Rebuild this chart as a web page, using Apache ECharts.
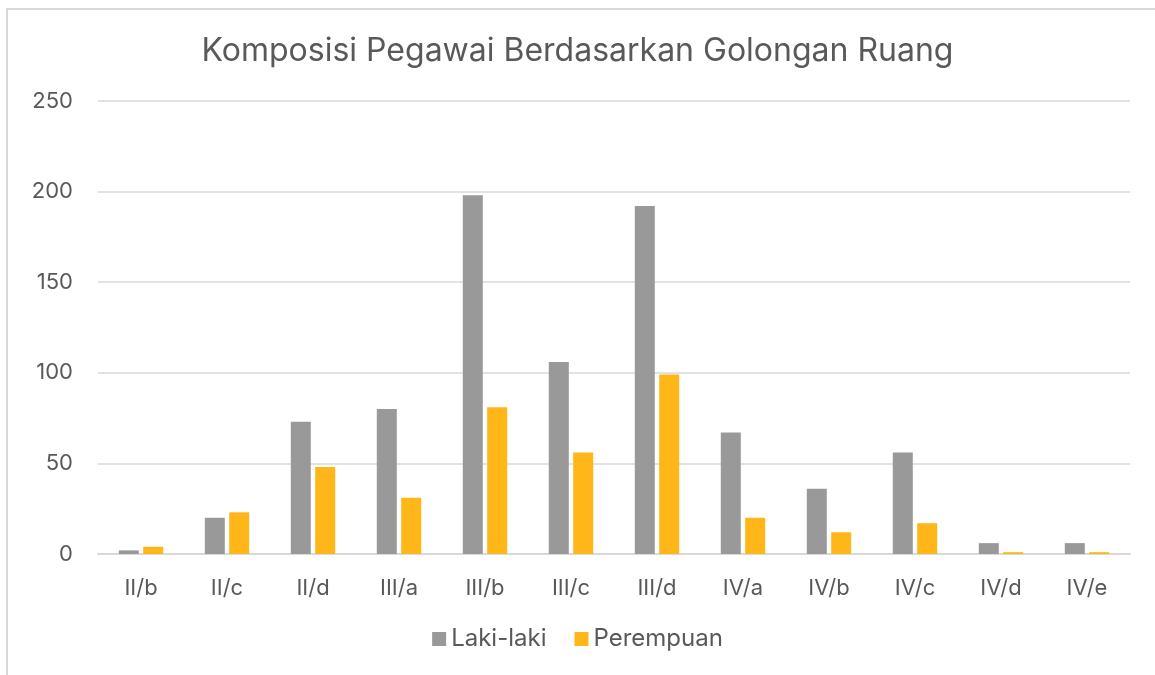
<!DOCTYPE html>
<html>
<head>
<meta charset="utf-8">
<script src="https://cdn.jsdelivr.net/npm/echarts@6/dist/echarts.min.js"></script>
<style>
html, body { margin: 0; padding: 0; background: #fff; }
#frame { position: absolute; left: 6px; top: 8px; width: 1160px; height: 680px; border-left: 2px solid #d9d9d9; border-top: 2px solid #d9d9d9; }
#main { position: absolute; left: 0; top: 0; width: 1155px; height: 675px; }
</style>
</head>
<body>
<div id="frame"></div>
<div id="main"></div>
<script>
// golongan ruang
var categories = ['II/b', 'II/c', 'II/d', 'III/a', 'III/b', 'III/c', 'III/d', 'IV/a', 'IV/b', 'IV/c', 'IV/d', 'IV/e'];
var lakiLaki = [2, 20, 73, 80, 198, 106, 192, 67, 36, 56, 6, 6];
var perempuan = [4, 23, 48, 31, 81, 56, 99, 20, 12, 17, 1, 1];

var chart = echarts.init(document.getElementById('main'));
var option = {
    title: {
        text: 'Komposisi Pegawai Berdasarkan Golongan Ruang',
        left: 'center',
        top: 30,
        textStyle: { fontFamily: 'Inter', fontWeight: 'normal', fontSize: 32, color: '#595959' }
    },
    legend: {
        bottom: 19,
        itemWidth: 14,
        itemHeight: 14,
        itemGap: 28,
        icon: 'rect',
        textStyle: { fontFamily: 'Inter', fontSize: 24, color: '#595959' },
        data: ['Laki-laki', 'Perempuan']
    },
    grid: { left: 98, right: 25, top: 101, bottom: 121 },
    xAxis: {
        type: 'category',
        data: categories,
        axisLine: { lineStyle: { color: '#d9d9d9', width: 2 } },
        axisTick: { show: false },
        axisLabel: { fontFamily: 'Inter', fontSize: 22, color: '#595959', margin: 23 }
    },
    yAxis: {
        type: 'value',
        min: 0,
        max: 250,
        interval: 50,
        axisLine: { show: false },
        axisTick: { show: false },
        splitLine: { lineStyle: { color: '#d9d9d9', width: 1.5 } },
        axisLabel: { fontFamily: 'Inter', fontSize: 22, color: '#595959', margin: 25 }
    },
    series: [
        {
            name: 'Laki-laki',
            type: 'bar',
            data: lakiLaki,
            barWidth: 20,
            barGap: '22%',
            itemStyle: { color: '#999999' }
        },
        {
            name: 'Perempuan',
            type: 'bar',
            data: perempuan,
            barWidth: 20,
            itemStyle: { color: '#FFB618' }
        }
    ]
};
chart.setOption(option);
</script>
</body>
</html>
